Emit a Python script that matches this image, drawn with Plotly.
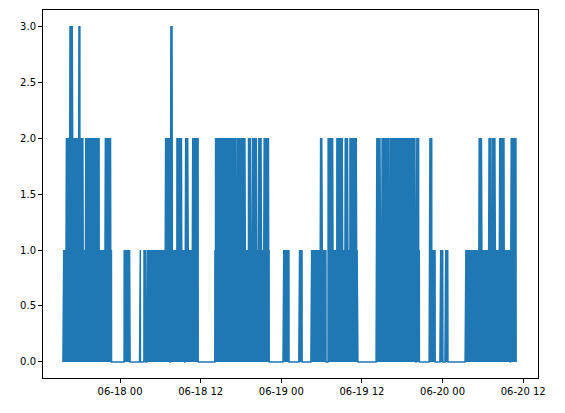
import pandas as pd
import plotly.graph_objects as go

# active periods, hours from 2023-06-18 00:00, and the peak level in each
seg_start = [-8.5, -8.1, -7.5, -7.1, -6.2, -5.95, -5.5, -5.15, -4.35, -4.2, -3.1, -2.2, -1.4,
             0.6, 2.9, 3.55, 4.0, 6.7, 7.45, 7.75, 8.45, 9.2, 9.65, 10.1, 10.7,
             14.1, 14.2, 15.7, 15.85, 17.35, 17.5, 18.7, 19.1, 19.5, 19.7, 20.35, 20.6, 21.0, 21.4, 22.1,
             24.25, 26.6, 28.4, 29.8, 30.05, 30.95, 31.75, 32.25, 33.15, 33.5, 33.9, 34.2, 35.2,
             38.1, 38.7, 38.95, 39.95, 40.1, 43.9, 44.05, 44.45,
             46.0, 46.4, 47.6, 48.35, 51.35, 53.4, 53.8, 54.9, 55.2, 55.4, 55.8, 56.45, 57.15, 58.1]
seg_end = [-8.1, -7.5, -7.1, -6.2, -5.95, -5.5, -5.15, -4.35, -4.2, -3.1, -2.2, -1.4, -1.25,
           1.5, 3.05, 3.85, 6.7, 7.45, 7.75, 8.45, 9.2, 9.65, 10.1, 10.7, 11.65,
           14.2, 15.7, 15.85, 17.35, 17.5, 18.7, 19.1, 19.5, 19.7, 20.35, 20.6, 21.0, 21.4, 22.1, 22.2,
           25.15, 27.1, 29.8, 30.05, 30.65, 31.75, 32.25, 33.15, 33.5, 33.9, 34.2, 35.2, 35.4,
           38.7, 38.95, 39.95, 40.1, 43.9, 44.05, 44.45, 44.55,
           46.4, 46.9, 48.05, 48.8, 53.4, 53.8, 54.9, 55.2, 55.4, 55.8, 56.45, 57.15, 58.1, 58.95]
seg_level = [1, 2, 3, 2, 3, 2, 1, 2, 1, 2, 1, 2, 1,
             1, 1, 1, 1, 2, 3, 1, 2, 1, 2, 1, 2,
             1, 2, 1, 2, 1, 2, 1, 2, 1, 2, 1, 2, 1, 2, 1,
             1, 1, 1, 2, 1, 2, 1, 2, 1, 2, 1, 2, 1,
             2, 1, 2, 1, 2, 1, 2, 1,
             2, 1, 1, 1, 1, 2, 1, 2, 1, 2, 1, 2, 1, 2]

origin = pd.Timestamp("2023-06-18 00:00")
step = 1 / 60  # one reading per minute inside active periods

times, values = [], []
for s, e, lv in zip(seg_start, seg_end, seg_level):
    n = max(int(round((e - s) / step)), 2)
    for i in range(n + 1):
        times.append(origin + pd.Timedelta(hours=s + i * step))
        values.append(lv if i % 2 else 0)
    values[-1] = 0

fig = go.Figure(go.Scatter(x=times, y=values, mode="lines",
                           line=dict(color="#1f77b4", width=1.5)))

axis = dict(showline=True, linecolor="black", linewidth=1, mirror=True, showgrid=False,
            zeroline=False, ticks="outside", ticklen=4, tickcolor="black", automargin=False,
            tickfont=dict(family="DejaVu Sans", size=10, color="black"))
fig.update_xaxes(**axis, tickformat="%m-%d %H", dtick=12 * 3600 * 1000,
                 tick0="2023-06-18 00:00",
                 range=["2023-06-17 12:32", "2023-06-20 14:12"])
fig.update_yaxes(**axis, range=[-0.143, 3.143], tickvals=[0, 0.5, 1, 1.5, 2, 2.5, 3],
                 tickformat=".1f")
# page body adds an 8px offset, so margins are shifted to compensate
fig.update_layout(width=565, height=413, margin=dict(l=35, r=35, t=2, b=43),
                  plot_bgcolor="white", paper_bgcolor="white", showlegend=False)
fig.write_html("out.html")
